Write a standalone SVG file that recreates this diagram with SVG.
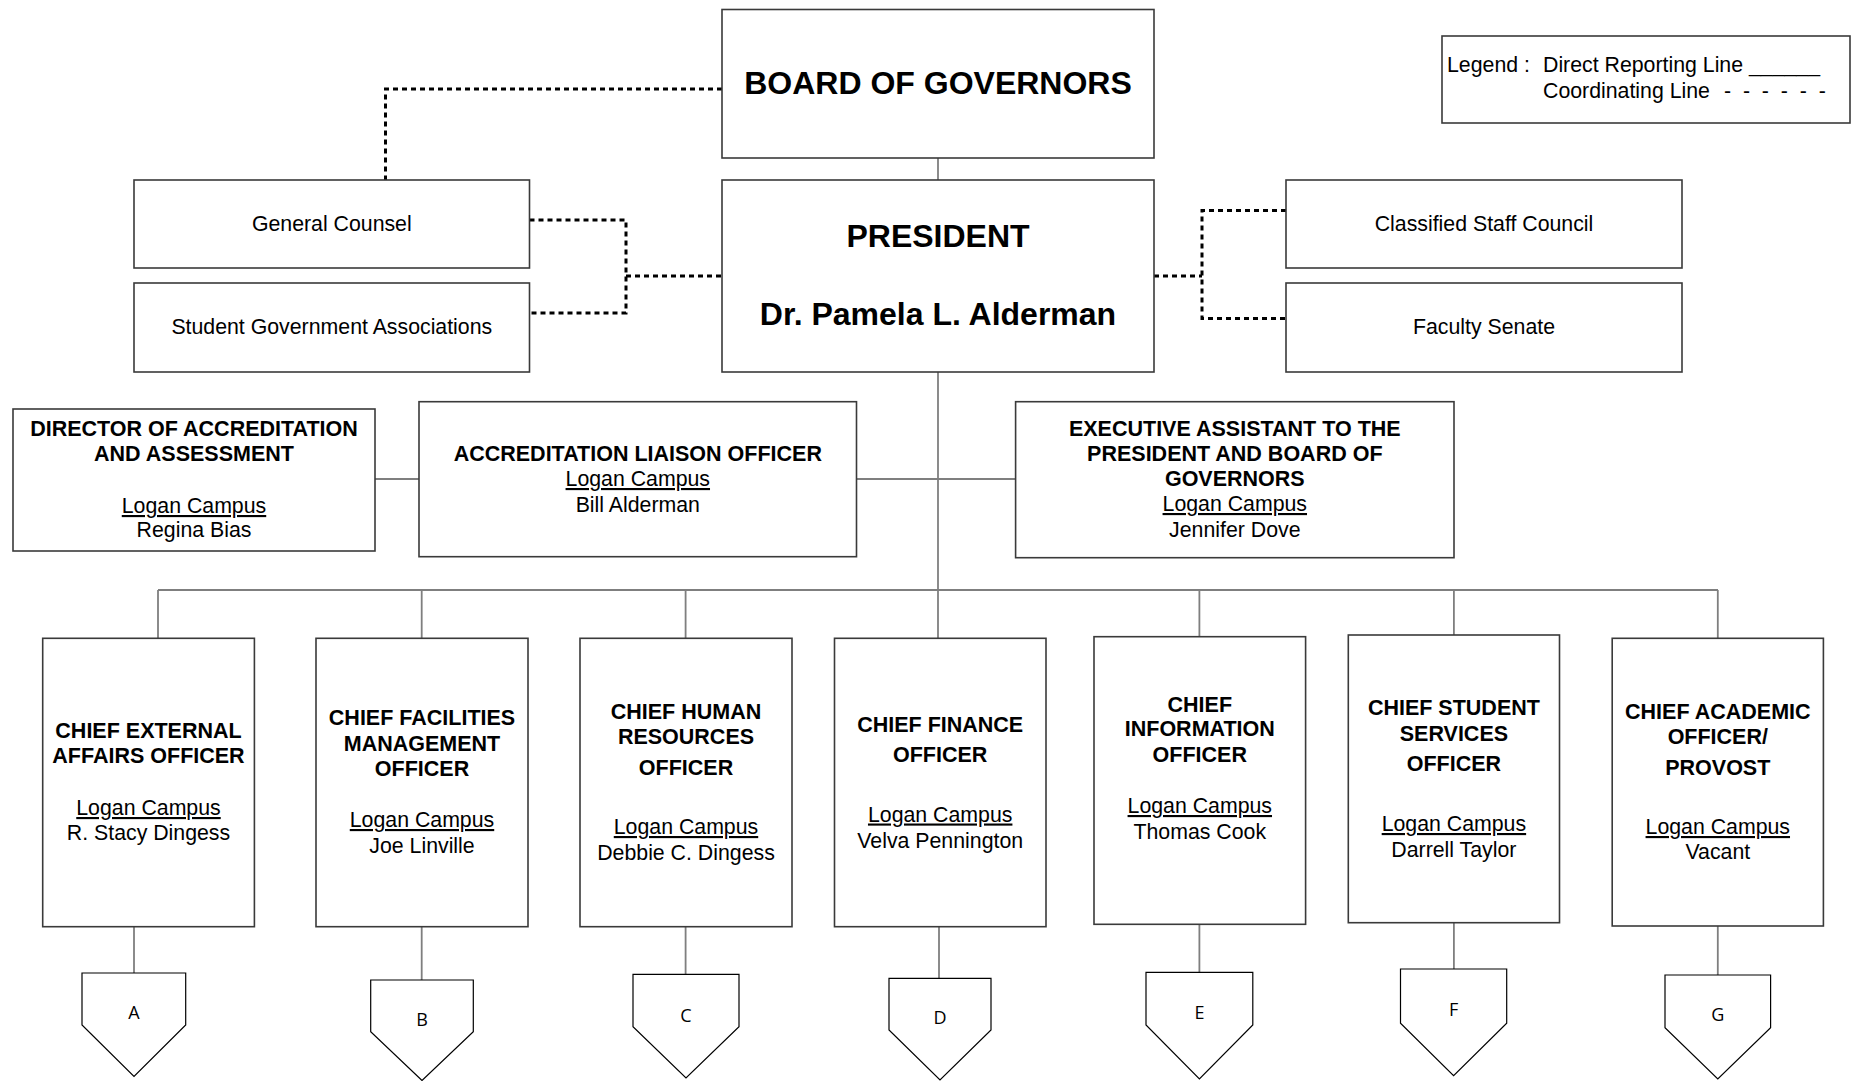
<svg xmlns="http://www.w3.org/2000/svg" width="1856" height="1081" viewBox="0 0 1856 1081">
<style>
text{font-family:"Liberation Sans",Arial,sans-serif;fill:#000;text-anchor:middle;font-size:21.3px}
.b{font-weight:bold;font-size:21.5px}
.big{font-weight:bold;font-size:32px}
.u{text-decoration:underline}
.box{fill:#fff;stroke:#3a3a3a;stroke-width:1.6}
.pent{fill:#fff;stroke:#000;stroke-width:1.2}
.ln{fill:none;stroke:#7f7f7f;stroke-width:1.8}
.dot{fill:none;stroke:#000;stroke-width:3;stroke-dasharray:5 4}
.let{font-family:"Open Sans","Noto Sans",sans-serif;font-size:18px}
.leg{text-anchor:start}
</style>
<rect width="1856" height="1081" fill="#fff"/>
<g id="connectors">
<path class="ln" d="M938,158 V180"/>
<path class="ln" d="M938,372 V638"/>
<path class="ln" d="M375,479 H419"/>
<path class="ln" d="M856.5,479 H1015.6"/>
<path class="ln" d="M158,590 H1718"/>
<path class="ln" d="M158,590 V638.3 M421.7,590 V638.3 M685.6,590 V638.3 M1199.4,590 V636.7 M1453.9,590 V635 M1717.8,590 V638.3"/>
<path class="ln" d="M134,926.7 V973 M421.7,926.7 V980 M685.6,926.7 V974.3 M939,926.7 V978.3 M1199.4,924.3 V972.3 M1453.9,922.7 V969 M1717.8,926 V975"/>
<path class="dot" d="M722,89 H385.5 V180"/>
<path class="dot" d="M529.5,220 H626 V313 H529.5 M626,276 H722"/>
<path class="dot" d="M1154,276 H1202 M1286,210.5 H1202 V318.5 H1286"/>
</g>
<g id="board">
<rect class="box" x="722" y="9.5" width="432" height="148.5"/>
<text class="big" x="938" y="94">BOARD OF GOVERNORS</text>
</g>
<g id="president">
<rect class="box" x="722" y="180" width="432" height="192"/>
<text class="big" x="938" y="246.5">PRESIDENT</text>
<text class="big" x="938" y="325">Dr. Pamela L. Alderman</text>
</g>
<g id="general-counsel">
<rect class="box" x="134" y="180" width="395.5" height="88"/>
<text x="331.8" y="231">General Counsel</text>
</g>
<g id="student-government">
<rect class="box" x="134" y="283" width="395.5" height="89"/>
<text x="331.8" y="334">Student Government Associations</text>
</g>
<g id="classified-staff">
<rect class="box" x="1286" y="180" width="396" height="88"/>
<text x="1484" y="231">Classified Staff Council</text>
</g>
<g id="faculty-senate">
<rect class="box" x="1286" y="283" width="396" height="89"/>
<text x="1484" y="334">Faculty Senate</text>
</g>
<g id="legend">
<rect class="box" x="1442" y="36" width="408" height="87"/>
<text class="leg" x="1447" y="72">Legend :</text>
<text class="leg" x="1543" y="72">Direct Reporting Line ______</text>
<text class="leg" x="1543" y="98">Coordinating Line</text>
<text class="leg" x="1724" y="98" xml:space="preserve">-  -  -  -  -  -</text>
</g>
<g id="director-accreditation">
<rect class="box" x="13" y="409" width="362" height="142"/>
<text class="b" x="194" y="436">DIRECTOR OF ACCREDITATION</text>
<text class="b" x="194" y="461">AND ASSESSMENT</text>
<text class="u" x="194" y="513">Logan Campus</text>
<text x="194" y="537">Regina Bias</text>
</g>
<g id="accreditation-liaison">
<rect class="box" x="419" y="401.7" width="437.5" height="155"/>
<text class="b" x="637.8" y="461">ACCREDITATION LIAISON OFFICER</text>
<text class="u" x="637.8" y="486">Logan Campus</text>
<text x="637.8" y="511.5">Bill Alderman</text>
</g>
<g id="executive-assistant">
<rect class="box" x="1015.6" y="401.7" width="438.4" height="156"/>
<text class="b" x="1234.8" y="436">EXECUTIVE ASSISTANT TO THE</text>
<text class="b" x="1234.8" y="461">PRESIDENT AND BOARD OF</text>
<text class="b" x="1234.8" y="486">GOVERNORS</text>
<text class="u" x="1234.8" y="511">Logan Campus</text>
<text x="1234.8" y="537">Jennifer Dove</text>
</g>
<g id="chief-external">
<rect class="box" x="42.7" y="638.3" width="211.7" height="288.4"/>
<text class="b" x="148.5" y="738">CHIEF EXTERNAL</text>
<text class="b" x="148.5" y="763">AFFAIRS OFFICER</text>
<text class="u" x="148.5" y="815">Logan Campus</text>
<text x="148.5" y="840">R. Stacy Dingess</text>
</g>
<g id="chief-facilities">
<rect class="box" x="316" y="638.3" width="212" height="288.4"/>
<text class="b" x="422" y="725">CHIEF FACILITIES</text>
<text class="b" x="422" y="751">MANAGEMENT</text>
<text class="b" x="422" y="776">OFFICER</text>
<text class="u" x="422" y="827">Logan Campus</text>
<text x="422" y="853">Joe Linville</text>
</g>
<g id="chief-human-resources">
<rect class="box" x="580" y="638.3" width="212" height="288.4"/>
<text class="b" x="686" y="719">CHIEF HUMAN</text>
<text class="b" x="686" y="744">RESOURCES</text>
<text class="b" x="686" y="775">OFFICER</text>
<text class="u" x="686" y="834">Logan Campus</text>
<text x="686" y="860">Debbie C. Dingess</text>
</g>
<g id="chief-finance">
<rect class="box" x="834.5" y="638.3" width="211.5" height="288.4"/>
<text class="b" x="940.2" y="731.5">CHIEF FINANCE</text>
<text class="b" x="940.2" y="761.5">OFFICER</text>
<text class="u" x="940.2" y="821.5">Logan Campus</text>
<text x="940.2" y="848">Velva Pennington</text>
</g>
<g id="chief-information">
<rect class="box" x="1094" y="636.7" width="211.6" height="287.6"/>
<text class="b" x="1199.8" y="711.5">CHIEF</text>
<text class="b" x="1199.8" y="736">INFORMATION</text>
<text class="b" x="1199.8" y="761.5">OFFICER</text>
<text class="u" x="1199.8" y="813">Logan Campus</text>
<text x="1199.8" y="839">Thomas Cook</text>
</g>
<g id="chief-student-services">
<rect class="box" x="1348.3" y="635" width="211.2" height="287.7"/>
<text class="b" x="1453.9" y="715">CHIEF STUDENT</text>
<text class="b" x="1453.9" y="741">SERVICES</text>
<text class="b" x="1453.9" y="771">OFFICER</text>
<text class="u" x="1453.9" y="831">Logan Campus</text>
<text x="1453.9" y="857">Darrell Taylor</text>
</g>
<g id="chief-academic">
<rect class="box" x="1612.2" y="638.3" width="211.2" height="287.7"/>
<text class="b" x="1717.8" y="719">CHIEF ACADEMIC</text>
<text class="b" x="1717.8" y="744">OFFICER/</text>
<text class="b" x="1717.8" y="775">PROVOST</text>
<text class="u" x="1717.8" y="834">Logan Campus</text>
<text x="1717.8" y="859">Vacant</text>
</g>
<g id="offpage-A">
<path class="pent" d="M82,973 H185.7 V1025 L134,1076.5 L82,1025 Z"/>
<text class="let" x="134" y="1019">A</text>
</g>
<g id="offpage-B">
<path class="pent" d="M370.7,980 H473.3 V1031.7 L422,1080.5 L370.7,1031.7 Z"/>
<text class="let" x="422" y="1026">B</text>
</g>
<g id="offpage-C">
<path class="pent" d="M633,974.3 H739 V1026.7 L686,1078 L633,1026.7 Z"/>
<text class="let" x="686" y="1021.5">C</text>
</g>
<g id="offpage-D">
<path class="pent" d="M889,978.3 H991 V1030 L940,1080 L889,1030 Z"/>
<text class="let" x="940" y="1024.3">D</text>
</g>
<g id="offpage-E">
<path class="pent" d="M1146,972.3 H1252.8 V1025 L1199.4,1079 L1146,1025 Z"/>
<text class="let" x="1199.4" y="1019">E</text>
</g>
<g id="offpage-F">
<path class="pent" d="M1400.5,969 H1506.7 V1023.3 L1453.6,1075.7 L1400.5,1023.3 Z"/>
<text class="let" x="1453.6" y="1016">F</text>
</g>
<g id="offpage-G">
<path class="pent" d="M1665,975 H1770.6 V1027.7 L1717.8,1079 L1665,1027.7 Z"/>
<text class="let" x="1717.8" y="1021">G</text>
</g>
</svg>
